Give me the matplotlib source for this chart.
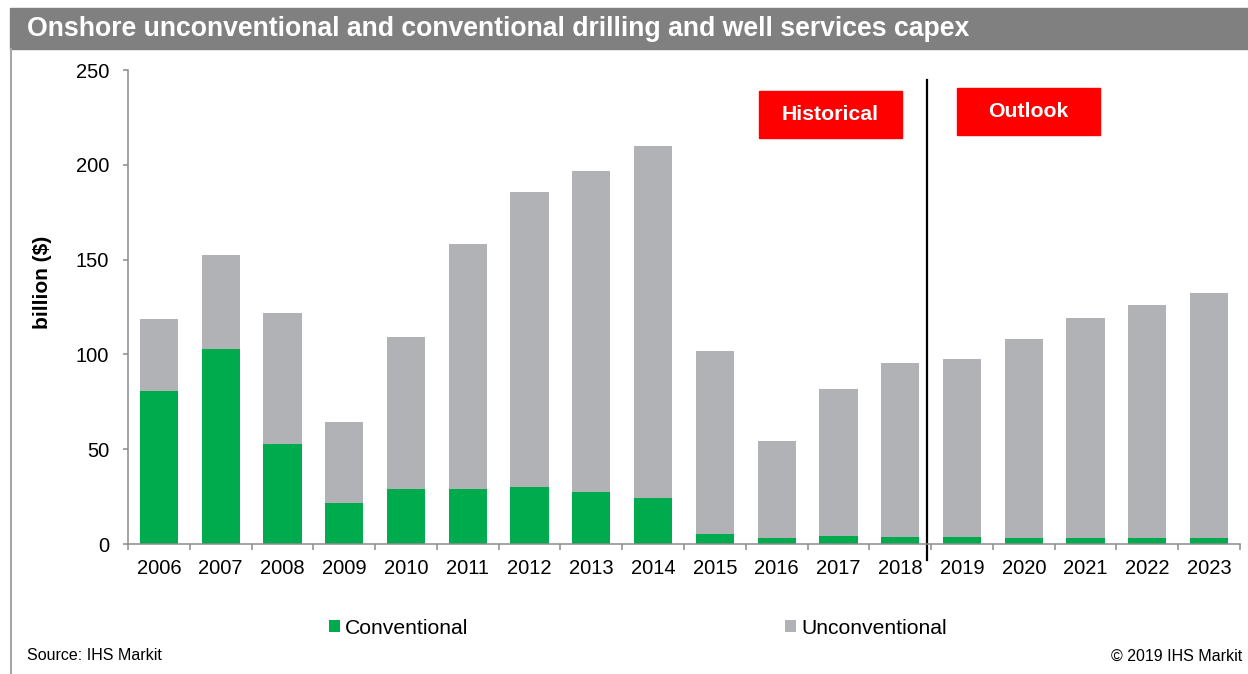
import numpy as np
import matplotlib.pyplot as plt
from matplotlib.patches import Rectangle
from matplotlib.lines import Line2D

plt.rcParams['font.family'] = ['Liberation Sans', 'DejaVu Sans']

years = [str(y) for y in range(2006, 2024)]
conventional = [80.7, 102.8, 53.0, 21.7, 29.0, 29.0, 29.8, 27.3, 24.2,
                5.5, 3.4, 4.4, 3.9, 3.9, 3.4, 3.1, 3.4, 3.4]
unconventional = [37.8, 49.7, 69.0, 42.6, 80.1, 129.3, 155.7, 169.4, 185.5,
                  96.1, 51.1, 77.6, 91.6, 93.9, 104.9, 116.2, 122.6, 129.0]

GREEN = '#00AB4E'
GREY = '#B1B2B6'
AXIS = '#8C8C8C'
W, H = 1248, 674

fig = plt.figure(figsize=(W / 100, H / 100), dpi=100)

# header bar and left frame line
fig.patches.append(Rectangle((10 / W, 1 - 49 / H), 1 - 10 / W, 41 / H,
                             transform=fig.transFigure, color='#808080', zorder=0))
fig.lines.append(Line2D([11 / W, 11 / W], [0, 1 - 49 / H], transform=fig.transFigure,
                        color='#A6A6A6', lw=1.5))
fig.text(27 / W, 1 - 29.5 / H,
         'Onshore unconventional and conventional drilling and well services capex',
         color='white', fontsize=19.15, fontweight='bold', va='center', ha='left')

ax = fig.add_axes([128 / W, 130 / H, 1112 / W, 474 / H])
x = np.arange(len(years))
b1 = ax.bar(x, conventional, width=0.62, color=GREEN, label='Conventional')
b2 = ax.bar(x, unconventional, width=0.62, bottom=conventional, color=GREY,
            label='Unconventional')

ax.set_xlim(-0.5, len(years) - 0.5)
ax.set_ylim(0, 250)
ax.set_yticks(range(0, 251, 50))
ax.set_xticks(x)
ax.set_xticklabels(years)
ax.set_xticks(np.arange(-0.5, len(years), 1), minor=True)
ax.tick_params(axis='x', which='major', length=0, pad=11, labelsize=14.5)
ax.tick_params(axis='x', which='minor', length=4.5, width=1.1, color=AXIS)
ax.tick_params(axis='y', length=3.6, width=1.1, color=AXIS, pad=10, labelsize=14.5)
for s in ['top', 'right']:
    ax.spines[s].set_visible(False)
for s in ['left', 'bottom']:
    ax.spines[s].set_color(AXIS)
    ax.spines[s].set_linewidth(1.1)

fig.text(42 / W, 1 - 282 / H, 'billion ($)', rotation=90, fontsize=15,
         fontweight='bold', ha='center', va='center')

# historical / outlook split
ax.plot([12.43, 12.43], [-8.4, 244.7], color='black', lw=1.6, clip_on=False)
ax.add_patch(Rectangle((9.71, 214.1), 2.32, 24.8, color='#FF0000', zorder=3))
ax.text(10.87, 226.5, 'Historical', color='white', fontsize=15.3, fontweight='bold',
        ha='center', va='center', zorder=4)
ax.add_patch(Rectangle((12.92, 215.7), 2.31, 24.8, color='#FF0000', zorder=3))
ax.text(14.075, 228.1, 'Outlook', color='white', fontsize=15.3, fontweight='bold',
        ha='center', va='center', zorder=4)

fig.legend(handles=[b1, b2], loc='center left', bbox_to_anchor=(329 / W, 46 / H),
           ncol=2, frameon=False, fontsize=15.2, handlelength=0.52, handleheight=0.52,
           handletextpad=0.25, columnspacing=15.0, borderpad=0, borderaxespad=0)

fig.text(27 / W, 1 - 656 / H, 'Source: IHS Markit', fontsize=11.5, va='center', ha='left')
fig.text(1242 / W, 1 - 656 / H, '\u00a9 2019 IHS Markit', fontsize=11.5, va='center', ha='right')

fig.savefig('out.png', dpi=100)
